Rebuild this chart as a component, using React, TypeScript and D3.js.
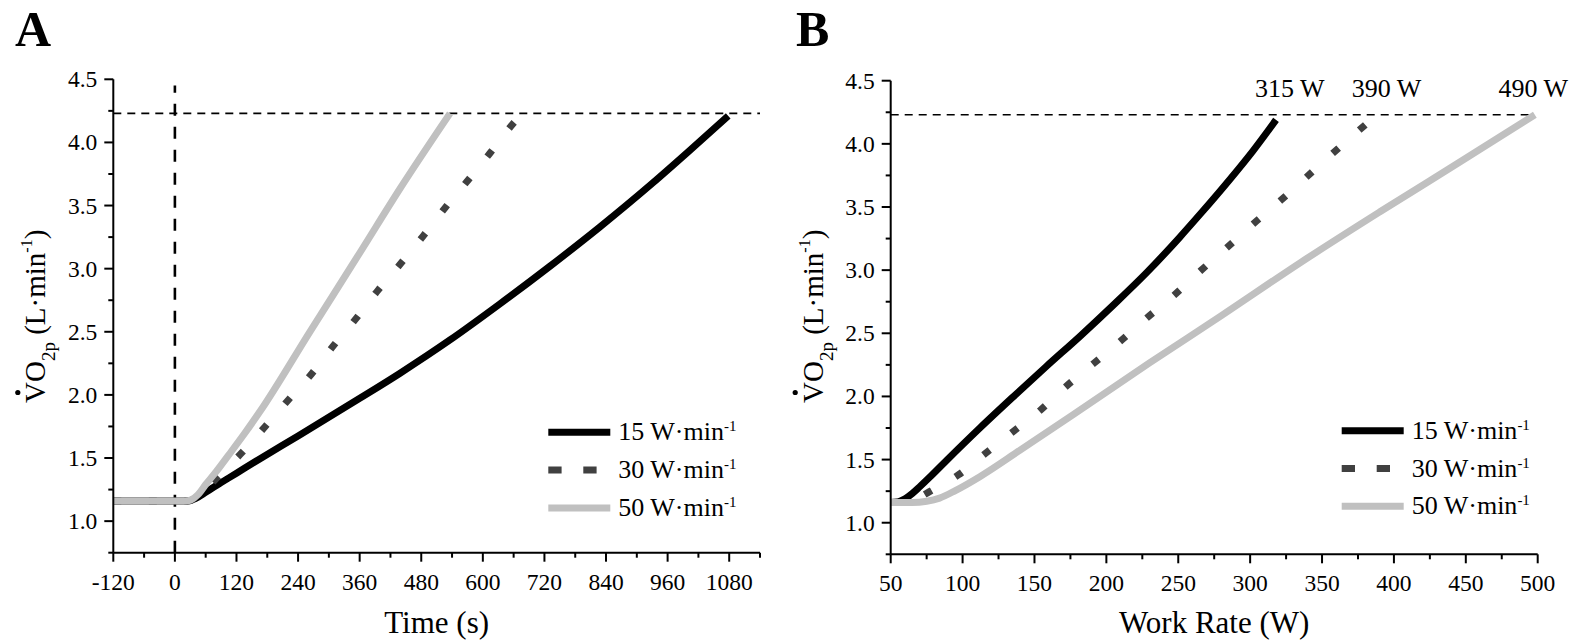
import React from 'react';
import * as d3 from 'd3';

// ---------- data ----------
const timeTicks = [-120, 0, 120, 240, 360, 480, 600, 720, 840, 960, 1080];
const workTicks = [50, 100, 150, 200, 250, 300, 350, 400, 450, 500];
const vo2Ticks = [1.0, 1.5, 2.0, 2.5, 3.0, 3.5, 4.0, 4.5];
const rampLabels = ['15 W·min', '30 W·min', '50 W·min'];
const peakLabels = ['315 W', '390 W', '490 W'];
const peakVO2 = 4.23;

// Panel A: VO2 vs time
const timeA15 = [-120, 25, 40, 55, 70, 90, 120, 166, 240, 361, 438, 536, 633, 731, 828, 930, 1000, 1078];
const vo2A15 = [1.16, 1.16, 1.178, 1.215, 1.255, 1.305, 1.38, 1.495, 1.675, 1.975, 2.17, 2.435, 2.72, 3.02, 3.33, 3.675, 3.925, 4.21];
const timeA30 = [-120, 25, 40, 55, 81, 130, 176, 221, 267, 309, 354, 396, 440, 484, 526, 569, 613, 655, 672];
const vo2A30 = [1.16, 1.16, 1.18, 1.23, 1.34, 1.54, 1.75, 1.96, 2.17, 2.39, 2.61, 2.83, 3.04, 3.26, 3.48, 3.69, 3.91, 4.13, 4.21];
const timeA50 = [-120, 20, 32, 45, 60, 80, 105, 135, 166, 263, 361, 438, 536];
const vo2A50 = [1.16, 1.16, 1.17, 1.21, 1.29, 1.39, 1.525, 1.69, 1.87, 2.5, 3.13, 3.63, 4.23];

// Panel B: VO2 vs work rate
const workB15 = [50, 55, 60, 65, 70, 78, 89, 112, 135, 158, 182, 205, 228, 251, 265, 286, 302, 318];
const vo2B15 = [1.16, 1.165, 1.19, 1.232, 1.283, 1.37, 1.495, 1.75, 1.995, 2.235, 2.48, 2.725, 2.98, 3.26, 3.44, 3.72, 3.945, 4.19];
const workB30 = [50, 60, 68, 77, 97, 116, 135, 154, 172, 191, 210, 228, 247, 266, 284, 302, 321, 339, 357, 376, 386];
const vo2B30 = [1.16, 1.165, 1.19, 1.246, 1.378, 1.55, 1.72, 1.89, 2.08, 2.26, 2.44, 2.62, 2.8, 3.0, 3.18, 3.365, 3.55, 3.735, 3.92, 4.11, 4.21];
const workB50 = [50, 65, 75, 84, 95, 112, 140, 180, 230, 280, 335, 390, 445, 498];
const vo2B50 = [1.16, 1.16, 1.17, 1.195, 1.255, 1.365, 1.575, 1.88, 2.265, 2.64, 3.06, 3.46, 3.85, 4.23];

// ---------- styling ----------
const FONT = "'Liberation Serif', 'Times New Roman', Times, serif";
const seriesStyle = [
  { color: '#000000', dash: undefined as string | undefined, legendDash: undefined as string | undefined },
  { color: '#404040', dash: '8 27.5', legendDash: '13.3 21.7' },
  { color: '#c0c0c0', dash: undefined, legendDash: undefined },
];
const LW = 7;

type Series = { x: number[]; y: number[] };

function zip(s: Series) {
  return s.x.map((v, i) => [v, s.y[i]] as [number, number]);
}

interface PanelProps {
  letter: string;
  xDomain: [number, number];
  xRange: [number, number];
  yRange: [number, number];
  xTicks: number[];
  xMinorStep: number;
  xTitle: string;
  series: Series[];
  order: number[];
  legendX: number;
  legendY: number;
  letterX: number;
  zeroLine?: boolean;
  hLineEnd: number;
  peaks?: { x: number; dx: number; label: string }[];
}

function Panel(p: PanelProps) {
  const x = d3.scaleLinear().domain(p.xDomain).range(p.xRange);
  const y = d3.scaleLinear().domain([0.75, 4.5]).range(p.yRange);
  const line = d3
    .line<[number, number]>()
    .x((d) => x(d[0]))
    .y((d) => y(d[1]))
    .curve(d3.curveMonotoneX);
  const x0 = p.xRange[0];
  const y0 = p.yRange[0];
  const xMinor = d3.range(p.xDomain[0], p.xDomain[1] + 0.001, p.xMinorStep).filter((v) => !p.xTicks.includes(v));
  const yMinor = d3.range(0.75, 4.51, 0.25).filter((v) => !vo2Ticks.some((t) => Math.abs(t - v) < 1e-6));
  const fmtY = d3.format('.1f');
  const midX = (p.xRange[0] + p.xRange[1]) / 2;
  const ytX = x0 - 68;
  return (
    <g fontFamily={FONT} fill="#000">
      <text x={p.letterX} y={46} fontSize={50} fontWeight="bold">
        {p.letter}
      </text>
      {/* reference lines */}
      <line
        x1={x0}
        x2={x(p.hLineEnd)}
        y1={y(peakVO2)}
        y2={y(peakVO2)}
        stroke="#000"
        strokeWidth={1.6}
        strokeDasharray="8 6"
      />
      {p.zeroLine && (
        <line x1={x(0)} x2={x(0)} y1={y0} y2={y(4.45)} stroke="#000" strokeWidth={2.6} strokeDasharray="12 11" />
      )}
      {/* curves */}
      {p.order.map((i) => (
        <path
          key={i}
          d={line(zip(p.series[i])) || ''}
          fill="none"
          stroke={seriesStyle[i].color}
          strokeWidth={LW}
          strokeDasharray={seriesStyle[i].dash}
          strokeLinecap="butt"
          strokeLinejoin="round"
        />
      ))}
      {/* axes */}
      <line x1={x0} x2={x0} y1={y0} y2={p.yRange[1]} stroke="#000" strokeWidth={2} />
      <line x1={x0} x2={p.xRange[1]} y1={y0} y2={y0} stroke="#000" strokeWidth={2} />
      {vo2Ticks.map((t) => (
        <g key={'yt' + t}>
          <line x1={x0 - 9} x2={x0} y1={y(t)} y2={y(t)} stroke="#000" strokeWidth={2} />
          <text x={x0 - 16} y={y(t) + 8} fontSize={23.5} textAnchor="end">
            {fmtY(t)}
          </text>
        </g>
      ))}
      {yMinor.map((t) => (
        <line key={'ym' + t} x1={x0 - 5} x2={x0} y1={y(t)} y2={y(t)} stroke="#000" strokeWidth={2} />
      ))}
      {p.xTicks.map((t) => (
        <g key={'xt' + t}>
          <line x1={x(t)} x2={x(t)} y1={y0} y2={y0 + 9} stroke="#000" strokeWidth={2} />
          <text x={x(t)} y={y0 + 37} fontSize={23.5} textAnchor="middle">
            {String(t)}
          </text>
        </g>
      ))}
      {xMinor.map((t) => (
        <line key={'xm' + t} x1={x(t)} x2={x(t)} y1={y0} y2={y0 + 5} stroke="#000" strokeWidth={2} />
      ))}
      {/* axis titles */}
      <text x={midX} y={633} fontSize={31} textAnchor="middle">
        {p.xTitle}
      </text>
      <g transform={`translate(${ytX},403) rotate(-90)`}>
        <text x={0} y={0} fontSize={29} textAnchor="start">
          V<tspan>O</tspan>
          <tspan dy={10} fontSize={19}>
            2p
          </tspan>
          <tspan dy={-10} fontSize={29}>
            {' (L·min'}
          </tspan>
          <tspan dy={-13} fontSize={16}>
            -1
          </tspan>
          <tspan dy={13} fontSize={29}>
            )
          </tspan>
        </text>
        <circle cx={10.5} cy={-27.5} r={2.6} fill="#000" />
      </g>
      {/* legend */}
      {rampLabels.map((lab, i) => {
        const ly = p.legendY + i * 37.8;
        return (
          <g key={'lg' + i}>
            <line
              x1={p.legendX}
              x2={p.legendX + 62}
              y1={ly}
              y2={ly}
              stroke={seriesStyle[i].color}
              strokeWidth={LW}
              strokeDasharray={seriesStyle[i].legendDash}
            />
            <text x={p.legendX + 70} y={ly + 8} fontSize={26}>
              {lab}
              <tspan dy={-9} fontSize={15}>
                -1
              </tspan>
            </text>
          </g>
        );
      })}
      {/* peak labels */}
      {p.peaks &&
        p.peaks.map((pk, i) => (
          <text key={'pk' + i} x={x(pk.x) + pk.dx} y={97} fontSize={26} textAnchor="middle">
            {pk.label}
          </text>
        ))}
    </g>
  );
}

export default function App() {
  const seriesA: Series[] = [
    { x: timeA15, y: vo2A15 },
    { x: timeA30, y: vo2A30 },
    { x: timeA50, y: vo2A50 },
  ];
  const seriesB: Series[] = [
    { x: workB15, y: vo2B15 },
    { x: workB30, y: vo2B30 },
    { x: workB50, y: vo2B50 },
  ];
  const peakWork = [315, 390, 490];
  const peakOffsets = [18, 7, 10];
  return (
    <svg
      width={1573}
      height={644}
      viewBox="0 0 1573 644"
      style={{ position: 'absolute', left: 0, top: 0, background: '#fff' }}
    >
      <rect width={1573} height={644} fill="#fff" />
      <Panel
        letter="A"
        xDomain={[-120, 1140]}
        xRange={[113.3, 760]}
        yRange={[552.7, 79.3]}
        xTicks={timeTicks}
        xMinorStep={60}
        xTitle="Time (s)"
        series={seriesA}
        order={[0, 1, 2]}
        legendX={548.3}
        legendY={432.3}
        letterX={15}
        zeroLine
        hLineEnd={1140}
      />
      <Panel
        letter="B"
        xDomain={[50, 500]}
        xRange={[890.7, 1537.7]}
        yRange={[554.3, 80.7]}
        xTicks={workTicks}
        xMinorStep={25}
        xTitle="Work Rate (W)"
        series={seriesB}
        order={[0, 1, 2]}
        legendX={1341.7}
        legendY={430.7}
        letterX={796}
        hLineEnd={496}
        peaks={peakWork.map((w, i) => ({ x: w, dx: peakOffsets[i], label: peakLabels[i] }))}
      />
    </svg>
  );
}
